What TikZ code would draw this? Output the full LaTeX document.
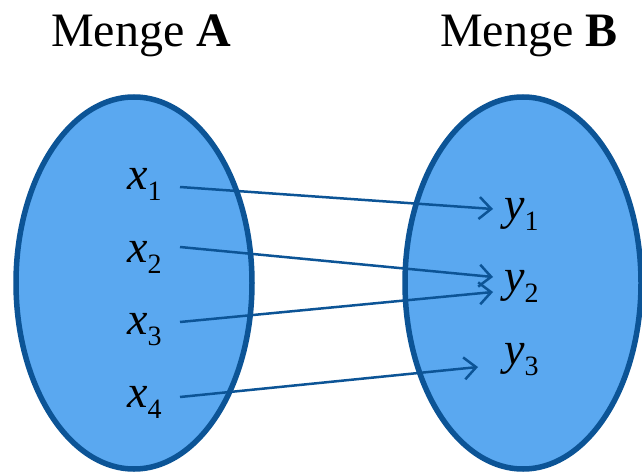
\documentclass[tikz,border=0pt]{standalone}
\usepackage{fontspec}
\setmainfont{Liberation Serif}
\newfontfamily\elfont{Liberation Serif}
\newfontfamily\elitfont{Liberation Serif Italic}
\usetikzlibrary{arrows.meta,shapes.geometric}
\definecolor{setfill}{RGB}{90,168,240}
\definecolor{setline}{RGB}{12,84,150}
\newcommand\elsub[1]{\raisebox{-11pt}{\elfont\fontsize{28}{30}\selectfont #1}}
\begin{document}
\begin{tikzpicture}[x=1pt,y=1pt,
 setshape/.style={ellipse,draw=setline,fill=setfill,line width=5.5pt,minimum width=236pt,minimum height=372pt,inner sep=0pt},
 title/.style={anchor=base west,inner sep=0pt,font=\elfont\fontsize{48}{58}\selectfont},
 elem/.style={anchor=base west,inner sep=0pt,font=\elitfont\fontsize{46}{55}\selectfont},
 maparrow/.style={draw=setline,line width=2.5pt,-{Straight Barb[length=12pt,width=22pt]}}]
\useasboundingbox (0,0) rectangle (642,472);
\fill[white] (0,0) rectangle (642,472);
\node[setshape] (A) at (134,189) {};
\node[setshape] (B) at (523,189) {};
\node[title] (tA) at (51,425) {Menge \textbf{A}};
\node[title] (tB) at (440,425) {Menge \textbf{B}};
\node[elem] (x1) at (127,283) {x\elsub{1}};
\node[elem] (x2) at (127,210) {x\elsub{2}};
\node[elem] (x3) at (127,138) {x\elsub{3}};
\node[elem] (x4) at (127,65) {x\elsub{4}};
\node[elem] (y1) at (504,253) {y\elsub{1}};
\node[elem] (y2) at (504,181) {y\elsub{2}};
\node[elem] (y3) at (504,108) {y\elsub{3}};
\draw[maparrow] ([shift={(53pt,2pt)}]x1.base west) -- ([shift={(-11pt,10pt)}]y1.base west);
\draw[maparrow] ([shift={(53pt,15pt)}]x2.base west) -- ([shift={(-11pt,14pt)}]y2.base west);
\draw[maparrow] ([shift={(53pt,12pt)}]x3.base west) -- ([shift={(-11pt,-1pt)}]y2.base west);
\draw[maparrow] ([shift={(53pt,10pt)}]x4.base west) -- ([shift={(-26pt,-3pt)}]y3.base west);
\end{tikzpicture}
\end{document}
